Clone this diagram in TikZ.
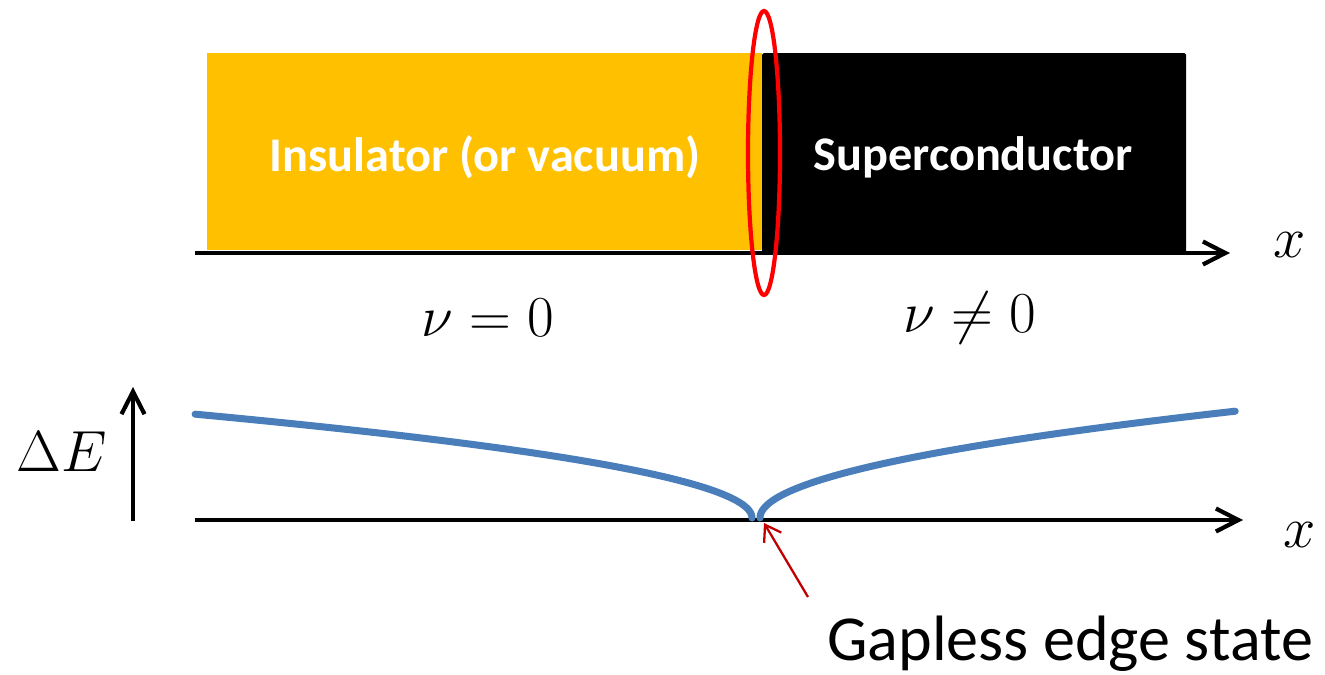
\RequirePackage{fix-cm}
\documentclass[tikz,border=0pt]{standalone}
\usepackage{fontspec}
\setmainfont{Carlito}
\usetikzlibrary{arrows.meta}

\definecolor{insyellow}{HTML}{FFC000}
\definecolor{gapblue}{HTML}{4A7EBB}
\definecolor{darkred}{HTML}{C00000}

\tikzset{
  axis/.style={line width=2.4pt, ->},
  gapcurve/.style={line width=4pt, gapblue, line cap=round},
  slablabel/.style={text=white, font=\fontsize{27.5}{32}\selectfont\bfseries},
  mathlabel/.style={font=\fontsize{33}{38}\selectfont},
}

\begin{document}
\begin{tikzpicture}[x=0.02cm, y=-0.02cm, >={Straight Barb[length=4.5mm, width=4.6mm]}]
\useasboundingbox (0,0) rectangle (1325,674);

% Slabs
\fill[insyellow] (207,53) rectangle (762,250);
\fill[black, rounded corners=1pt] (762,53) rectangle (1186,253);
\node[slablabel] (ins) at (485,157) {Insulator (or vacuum)};
\node[slablabel] (sc) at (973,157) {Superconductor};

% Upper axis
\coordinate (top0) at (195,253);
\coordinate (top1) at (1230,253);
\draw[axis] (top0) -- (top1);
\node[mathlabel] (xtop) at (1290,245) {$x$};

% Interface
\draw[red, line width=2.4pt] (764,153) ellipse (16 and 142);

% Invariants
\node[mathlabel] (nu0) at (488,318) {$\nu = 0$};
\node[mathlabel] (nu1) at (970,318) {$\nu \neq 0$};

% Energy gap axes
\coordinate (bot0) at (195,520);
\coordinate (bot1) at (1243,520);
\draw[axis] (bot0) -- (bot1);
\node[mathlabel] (xbot) at (1300,535) {$x$};
\coordinate (de0) at (133,521);
\coordinate (de1) at (133,387);
\draw[axis] (de0) -- (de1);
\node[mathlabel] (de) at (62,452) {$\Delta E$};

% Gap closing at the edge
\draw[gapcurve] plot[domain=0:23.6, samples=80] ({752-\x*\x},{518-4.4*\x});
\draw[gapcurve] plot[domain=0:21.8, samples=80] ({760+\x*\x},{518-4.9*\x});

% Edge state
\node[font=\fontsize{36.5}{40}\selectfont] (edge) at (1070,644) {Gapless edge state};
\coordinate (edgetail) at (808,597);
\coordinate (edgetip) at (764,523);
\draw[->, >={Straight Barb[length=3mm, width=4mm]}, darkred, line width=1.3pt] (edgetail) -- (edgetip);

\end{tikzpicture}
\end{document}
